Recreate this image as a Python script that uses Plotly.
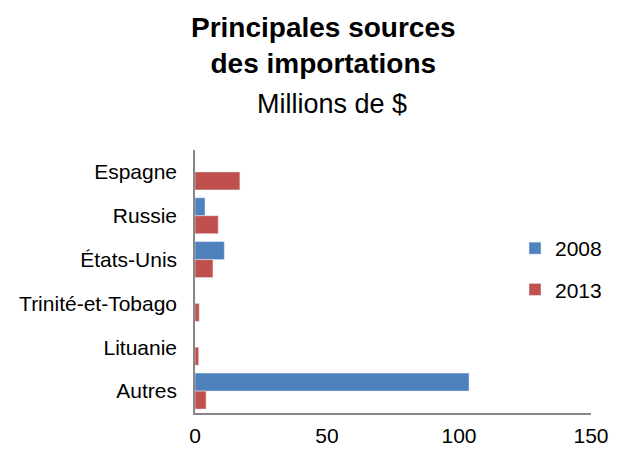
import plotly.graph_objects as go

categories = ["Espagne", "Russie", "États-Unis", "Trinité-et-Tobago", "Lituanie", "Autres"]
values_2008 = [0, 3.8, 11.1, 0, 0, 103.8]
values_2013 = [17.0, 8.8, 6.8, 1.6, 1.4, 4.2]
x_ticks = [0, 50, 100, 150]

fig = go.Figure()
fig.add_trace(go.Bar(y=categories, x=values_2008, name="2008", orientation="h",
                     marker=dict(color="#4F81BD"), legendgroup="a"))
fig.add_trace(go.Bar(y=categories, x=values_2013, name="2013", orientation="h",
                     marker=dict(color="#C0504D"), legendgroup="b"))

font_family = "Liberation Sans, Arial, sans-serif"

# The page body adds an 8px margin, so the figure is sized to fit the window.
W, H = 610, 441
ML, MR, MT, MB = 187, 27, 142, 36
plot_w = W - ML - MR
plot_h = H - MT - MB


def px_x(x):
    return (x - ML) / plot_w


def px_y(y):
    return (H - MB - y) / plot_h


fig.update_layout(
    width=W, height=H,
    margin=dict(l=ML, r=MR, t=MT, b=MB, autoexpand=False),
    paper_bgcolor="white", plot_bgcolor="white",
    barmode="group", bargap=0.18, bargroupgap=0,
    font=dict(family=font_family, color="black", size=21),
    showlegend=True,
    legend=dict(x=px_x(507), y=px_y(261), xanchor="left", yanchor="middle",
                font=dict(size=21), traceorder="grouped", tracegroupgap=11,
                bgcolor="rgba(0,0,0,0)", itemwidth=30),
    xaxis=dict(range=[0, 150], tickvals=x_ticks, showgrid=False, zeroline=False,
               showline=True, linecolor="#888888", linewidth=1.5,
               ticks="outside", ticklen=3, tickcolor="rgba(0,0,0,0)",
               tickfont=dict(size=21), automargin=False),
    yaxis=dict(autorange="reversed", showgrid=False, zeroline=False,
               showline=True, linecolor="#888888", linewidth=1.5,
               ticks="outside", ticklen=12, tickcolor="rgba(0,0,0,0)",
               tickfont=dict(size=21), automargin=False),
    annotations=[
        dict(text="<b>Principales sources<br>des importations</b>",
             x=px_x(315), y=px_y(38), xref="paper", yref="paper",
             xanchor="center", yanchor="middle", showarrow=False,
             font=dict(size=28, family=font_family)),
        dict(text="Millions de $",
             x=px_x(324), y=px_y(96), xref="paper", yref="paper",
             xanchor="center", yanchor="middle", showarrow=False,
             font=dict(size=27, family=font_family)),
    ],
)

fig.write_html("out.html")
